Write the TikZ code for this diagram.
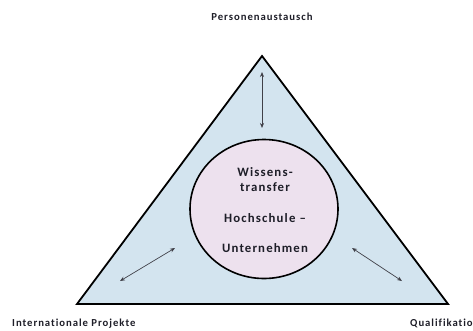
\documentclass[tikz,border=0pt]{standalone}
\usepackage{fontspec}
\setmainfont{Carlito}
\newfontfamily\widefont[LetterSpace=9,Ligatures={NoCommon}]{Carlito}
\usetikzlibrary{arrows.meta,shapes.geometric}
\definecolor{tri}{HTML}{D3E4EF}
\definecolor{circ}{HTML}{EDE1EE}
\definecolor{ink}{HTML}{1E1E28}
\tikzset{
  lbl/.style={font=\widefont\bfseries\fontsize{10.7}{12}\selectfont, text=ink, inner sep=0pt},
  ctext/.style={font=\widefont\bfseries\fontsize{12.8}{14}\selectfont, text=ink, inner sep=0pt},
  link/.style={draw=ink!85, line width=0.7pt, {Stealth[length=5pt,width=4pt]}-{Stealth[length=5pt,width=4pt]}}
}
\begin{document}
\begin{tikzpicture}[x=1pt,y=-1pt]
\useasboundingbox (0,0) rectangle (473,330);
\clip (0,0) rectangle (473,330);
\coordinate (A) at (262,56);
\coordinate (B) at (77,304);
\coordinate (C) at (448,304);
\draw[fill=tri, line width=1.8pt, line join=miter] (A) -- (B) -- (C) -- cycle;
\node[ellipse, draw=black, line width=1.6pt, fill=circ, minimum width=148pt, minimum height=139pt] (core) at (264,209) {};
\node[ctext] (t1) at (265,172) {Wissens-};
\node[ctext] (t2) at (265,187) {transfer};
\node[ctext] (t3) at (265,218) {Hochschule –};
\node[ctext] (t4) at (265,248) {Unternehmen};
\node[lbl] (top) at (262,17) {Personenaustausch};
\node[lbl, anchor=west] (left) at (12,324) {Internationale Projekte};
\node[lbl, anchor=west] (right) at (410,323) {Qualifikation};
\coordinate (a1) at (262,72);
\coordinate (a2) at (262,128);
\coordinate (b1) at (120,281);
\coordinate (b2) at (175,248);
\coordinate (c1) at (352,248);
\coordinate (c2) at (402,281);
\draw[link] (a1) -- (a2);
\draw[link] (b1) -- (b2);
\draw[link] (c1) -- (c2);
\end{tikzpicture}
\end{document}
